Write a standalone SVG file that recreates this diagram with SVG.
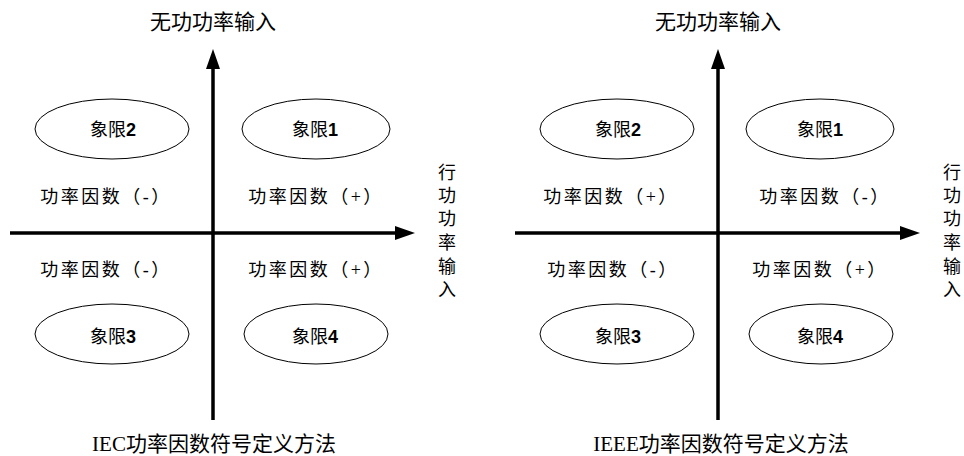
<svg xmlns="http://www.w3.org/2000/svg" width="964" height="456" viewBox="0 0 964 456">
<style>
.t{font-family:"Liberation Serif","Noto Sans CJK SC",serif;fill:#000;text-anchor:middle;dominant-baseline:central}
.big{font-size:21px}
.q{font-size:18px;letter-spacing:2.5px}
.v{font-size:18px}
.e{font-size:18px}
.num{font-family:"Liberation Sans","Noto Sans CJK SC",sans-serif;font-weight:bold}
.ax{stroke:#000;stroke-width:3.5;fill:none}
.el{fill:#fff;stroke:#000;stroke-width:1}
</style>
<defs>
<marker id="arr" markerUnits="userSpaceOnUse" markerWidth="22" markerHeight="14" refX="2" refY="7" orient="auto" viewBox="0 0 22 14">
<path d="M0,0 L20,7 L0,14 z" fill="#000"/>
</marker>
</defs>
<rect width="964" height="456" fill="#fff"/>
<g id="connectors">
<line class="ax" x1="213" y1="420" x2="213" y2="67" marker-end="url(#arr)"/>
<line class="ax" x1="10" y1="233" x2="397" y2="233" marker-end="url(#arr)"/>
<line class="ax" x1="718" y1="420" x2="718" y2="67" marker-end="url(#arr)"/>
<line class="ax" x1="515" y1="233" x2="902" y2="233" marker-end="url(#arr)"/>
</g>
<g id="iec-q2"><ellipse class="el" cx="112" cy="129" rx="77" ry="30"/><text class="t e" x="113" y="130">象限<tspan class="num">2</tspan></text></g>
<g id="iec-q1"><ellipse class="el" cx="316" cy="129" rx="74" ry="30"/><text class="t e" x="315" y="130">象限<tspan class="num">1</tspan></text></g>
<g id="iec-q3"><ellipse class="el" cx="112" cy="334" rx="77" ry="30"/><text class="t e" x="113" y="337">象限<tspan class="num">3</tspan></text></g>
<g id="iec-q4"><ellipse class="el" cx="316" cy="334" rx="72" ry="30"/><text class="t e" x="315" y="337">象限<tspan class="num">4</tspan></text></g>
<g id="iec-pf">
<text class="t q" x="106" y="197">功率因数（-）</text>
<text class="t q" x="316" y="197">功率因数（+）</text>
<text class="t q" x="106" y="270">功率因数（-）</text>
<text class="t q" x="316" y="270">功率因数（+）</text>
</g>
<g id="iec-labels">
<text class="t big" x="213" y="22">无功功率输入</text>
<text class="t big" x="214" y="444">IEC功率因数符号定义方法</text>
<text class="t v" x="447"><tspan x="447" y="173">行</tspan><tspan x="447" y="196">功</tspan><tspan x="447" y="219">功</tspan><tspan x="447" y="243">率</tspan><tspan x="447" y="267">输</tspan><tspan x="447" y="290">入</tspan></text>
</g>
<g id="ieee-q2"><ellipse class="el" cx="617" cy="129" rx="77" ry="30"/><text class="t e" x="618" y="130">象限<tspan class="num">2</tspan></text></g>
<g id="ieee-q1"><ellipse class="el" cx="820" cy="129" rx="74" ry="30"/><text class="t e" x="820" y="130">象限<tspan class="num">1</tspan></text></g>
<g id="ieee-q3"><ellipse class="el" cx="617" cy="334" rx="77" ry="30"/><text class="t e" x="618" y="337">象限<tspan class="num">3</tspan></text></g>
<g id="ieee-q4"><ellipse class="el" cx="821" cy="334" rx="72" ry="30"/><text class="t e" x="820" y="337">象限<tspan class="num">4</tspan></text></g>
<g id="ieee-pf">
<text class="t q" x="611" y="197">功率因数（+）</text>
<text class="t q" x="825" y="197">功率因数（-）</text>
<text class="t q" x="613" y="270">功率因数（-）</text>
<text class="t q" x="820" y="270">功率因数（+）</text>
</g>
<g id="ieee-labels">
<text class="t big" x="718" y="22">无功功率输入</text>
<text class="t big" x="721" y="444">IEEE功率因数符号定义方法</text>
<text class="t v" x="952"><tspan x="952" y="173">行</tspan><tspan x="952" y="196">功</tspan><tspan x="952" y="219">功</tspan><tspan x="952" y="243">率</tspan><tspan x="952" y="267">输</tspan><tspan x="952" y="290">入</tspan></text>
</g>
</svg>
